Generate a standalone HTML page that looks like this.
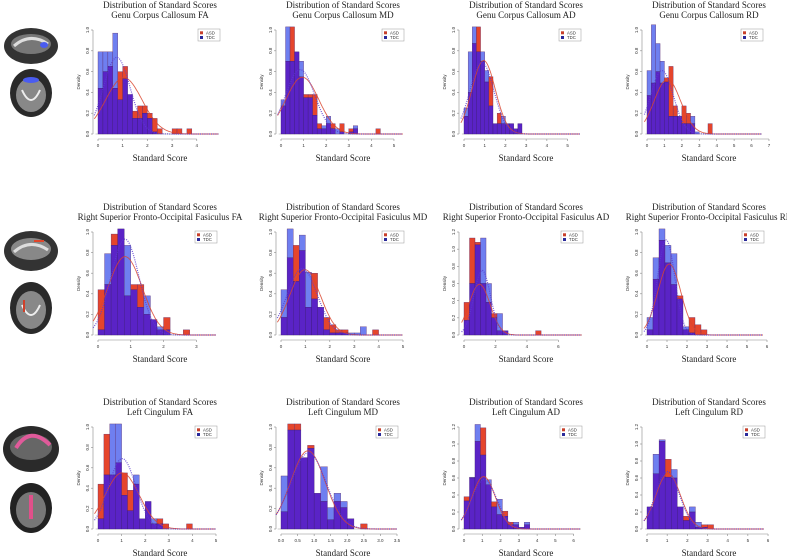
<!DOCTYPE html>
<html><head><meta charset="utf-8">
<style>
html,body{margin:0;padding:0;background:#fff;width:787px;height:560px;overflow:hidden}
svg{display:block}
.t{font-family:"Liberation Serif",serif;fill:#222}
.s{font-family:"Liberation Sans",sans-serif;fill:#333}
</style></head><body>
<svg id="fig" width="787" height="560" viewBox="0 0 787 560" xmlns="http://www.w3.org/2000/svg">
<g>
 <g>
  <ellipse cx="31" cy="46" rx="27" ry="18" fill="#333"/><ellipse cx="31" cy="44" rx="20" ry="10" fill="#777"/><path d="M14 46 Q30 32 48 44" stroke="#ddd" stroke-width="3" fill="none"/><ellipse cx="44" cy="45" rx="4" ry="3" fill="#4a5cf0"/>
  <ellipse cx="31" cy="93" rx="21" ry="24" fill="#2a2a2a"/><ellipse cx="31" cy="95" rx="15" ry="17" fill="#888"/><path d="M22 90 Q31 110 40 90" stroke="#eee" stroke-width="2" fill="none"/><ellipse cx="31" cy="80" rx="8" ry="3" fill="#4a5cf0"/>
 </g>
 <g>
  <ellipse cx="31" cy="251" rx="27" ry="20" fill="#333"/><ellipse cx="31" cy="249" rx="20" ry="11" fill="#888"/><path d="M14 252 Q30 238 48 250" stroke="#ddd" stroke-width="3" fill="none"/><rect x="34" y="240" width="10" height="2" fill="#e0452a"/>
  <ellipse cx="31" cy="308" rx="21" ry="26" fill="#2a2a2a"/><ellipse cx="31" cy="310" rx="15" ry="19" fill="#888"/><path d="M22 305 Q31 325 40 305" stroke="#eee" stroke-width="2" fill="none"/><rect x="23" y="300" width="2" height="12" fill="#d0402a"/>
 </g>
 <g>
  <ellipse cx="31" cy="449" rx="28" ry="23" fill="#2a2a2a"/><ellipse cx="31" cy="447" rx="21" ry="13" fill="#666"/><path d="M16 448 Q30 425 50 445" stroke="#e05a9a" stroke-width="4" fill="none"/>
  <ellipse cx="31" cy="508" rx="21" ry="25" fill="#222"/><ellipse cx="31" cy="510" rx="15" ry="18" fill="#777"/><rect x="29" y="495" width="4" height="24" fill="#e0508a"/>
 </g>
</g>
<g id="charts"></g>
</svg>
<script>
// ---- data: histogram densities (ASD and TDC) per panel ----
const asdGenuFA=[0.44,0.6,0.65,0.44,0.6,0.65,0.38,0.22,0.27,0.27,0.2,0.15,0.05,0,0,0.05,0.05,0,0.05];
const tdcGenuFA=[0.79,0.79,0.79,0.97,0.33,0.53,0.38,0.15,0.15,0.2,0.15,0.02];
const asdGenuMD=[0.27,0.7,1.03,0.79,0.55,0.38,0.38,0.38,0.1,0.05,0.1,0.1,0,0.1,0,0.05,0.05,0,0,0,0,0.05];
const tdcGenuMD=[0.33,1.03,0.7,0.79,0.7,0.35,0.35,0.18,0.05,0.08,0.17,0.05,0.05,0.02,0,0.02,0.08];
const asdGenuAD=[0.17,0.4,0.87,1.03,0.7,0.5,0.55,0.1,0.2,0.1,0.1,0.1,0.05,0.1];
const tdcGenuAD=[0.25,0.79,1.03,0.79,0.79,0.61,0.27,0.1,0.1,0.17,0.1,0.1,0.05,0.1];
const asdGenuRD=[0.37,0.49,0.6,0.49,0.54,0.65,0.27,0.17,0.27,0.2,0.1,0,0,0,0.1];
const tdcGenuRD=[0.61,1.05,0.87,0.7,0.5,0.17,0.17,0.17,0.1,0.1,0.17,0.02];
const asdSfofFA=[0.44,0.49,0.98,1.03,0.38,0.49,0.49,0.2,0.15,0.05,0.17,0,0,0.05];
const tdcSfofFA=[0.05,0.79,0.87,1.03,0.87,0.44,0.27,0.38,0.15,0.08,0.05];
const asdSfofMD=[0.17,0.75,0.87,0.82,0.27,0.6,0.27,0.17,0.1,0.05,0.05,0,0,0,0,0.05];
const tdcSfofMD=[0.44,1.03,0.52,0.97,0.61,0.35,0.27,0.05,0.02,0.02,0.02,0.02,0.02,0.08];
const asdSfofAD=[0.38,1.13,1.08,0.6,0.38,0.25,0.05,0.05,0,0,0,0,0,0.05];
const tdcSfofAD=[0.17,0.6,1.05,1.13,0.6,0.2,0.25,0.05];
const asdSfofRD=[0.05,0.54,0.92,0.7,0.49,0.38,0.05,0.17,0.1,0.05];
const tdcSfofRD=[0.17,0.75,1.03,0.87,0.79,0.35,0.08,0.02];
const asdCingFA=[0.44,0.93,0.53,0.65,0.55,0.38,0.44,0.1,0.27,0.05,0.1,0.05,0,0,0,0.05];
const tdcCingFA=[0.1,0.53,1.03,1.03,0.33,0.18,0.53,0.1,0.27,0.1,0.05];
const asdCingMD=[0.17,1.03,1.03,0.7,0.82,0.35,0.27,0.09,0.27,0.21,0.1,0,0.05];
const tdcCingMD=[0.52,0.97,0.97,0.7,0.79,0.35,0.61,0.21,0.35,0.27,0.1];
const asdCingAD=[0.38,0.6,1.03,1.19,0.52,0.32,0.17,0.21,0.08,0.05,0.02,0.05];
const tdcCingAD=[0.33,0.61,1.23,0.87,0.58,0.26,0.35,0.15,0.05,0.08,0.02,0.08];
const asdCingRD=[0.26,0.65,1.03,0.82,0.6,0.26,0.15,0.2,0.02,0.05,0.05];
const tdcCingRD=[0.26,0.88,1.05,0.61,0.7,0.26,0.1,0.26,0.08,0.02];
const tractNames=["Genu Corpus Callosum","Right Superior Fronto-Occipital Fasiculus","Left Cingulum"];
const measureNames=["FA","MD","AD","RD"];
const binWidths=[0.2,0.2,0.2,0.25, 0.2,0.25,0.35,0.3, 0.25,0.2,0.3,0.3];
const xTickLabels=[[0,1,2,3,4],[0,1,2,3,4,5],[0,1,2,3,4,5],[0,1,2,3,4,5,6,7],
 [0,1,2,3],[0,1,2,3,4,5],[0,2,4,6],[0,1,2,3,4,5,6],
 [0,1,2,3,4,5],[0,0.5,1,1.5,2,2.5,3,3.5],[0,1,2,3,4,5,6],[0,1,2,3,4,5,6]];
const yTopValues=[1.0,1.0,1.0,1.0, 1.0,1.0,1.2,1.0, 1.0,1.0,1.2,1.2];
const xDomainMax=[4.9,5.4,5.6,6.6, 3.6,5.0,7.5,5.8, 5.0,3.5,6.4,5.8];
const asdSeries=[asdGenuFA,asdGenuMD,asdGenuAD,asdGenuRD,asdSfofFA,asdSfofMD,asdSfofAD,asdSfofRD,asdCingFA,asdCingMD,asdCingAD,asdCingRD];
const tdcSeries=[tdcGenuFA,tdcGenuMD,tdcGenuAD,tdcGenuRD,tdcSfofFA,tdcSfofMD,tdcSfofAD,tdcSfofRD,tdcCingFA,tdcCingMD,tdcCingAD,tdcCingRD];

// ---- layout ----
const colX0=[98,281,464,647];
const rowTop=[30,232,427], rowBot=[134,335,529];
const plotW=[121,122,116,115, 118,122,118,116, 118,116,117,117];
const NS="http://www.w3.org/2000/svg";
const root=document.getElementById('charts');
function mk(tag,attrs,parent){const e=document.createElementNS(NS,tag);for(const k in attrs)e.setAttribute(k,attrs[k]);parent.appendChild(e);return e;}
function stats(h,bw){let s=0,m=0,v=0;h.forEach((d,i)=>{s+=d;m+=d*(i+0.5)*bw;});m/=s;h.forEach((d,i)=>{v+=d*Math.pow((i+0.5)*bw-m,2);});v/=s;return [m,Math.sqrt(v)];}

for(let p=0;p<12;p++){
 const r=Math.floor(p/4),c=p%4;
 const x0=colX0[c],top=rowTop[r],bot=rowBot[r];
 const sx=plotW[p]/xDomainMax[p];
 const xs=v=>x0+v*sx;
 const ys=v=>bot-(v/yTopValues[p])*(bot-top);
 const g=mk('g',{},root);
 
 
 const cx=x0+62;
 const t1=mk('text',{x:cx,y:top-22,'text-anchor':'middle','font-size':'9',class:'t'},g);t1.textContent='Distribution of Standard Scores';
 
 
 const t2=mk('text',{x:cx,y:top-12,'text-anchor':'middle','font-size':'9',class:'t'},g);t2.textContent=tractNames[r]+' '+measureNames[c];
 
 
 const xl=mk('text',{x:cx,y:bot+27,'text-anchor':'middle','font-size':'9',class:'t'},g);xl.textContent='Standard Score';
 
 
 const yl=mk('text',{x:0,y:0,'text-anchor':'middle','font-size':'4.5',class:'s',transform:`translate(${x0-18},${(top+bot)/2}) rotate(-90)`},g);yl.textContent='Density';
 
 
 const ya=mk('g',{},g);
 
 
 mk('line',{x1:x0-5,x2:x0-5,y1:ys(0),y2:ys(yTopValues[p]),stroke:'#888','stroke-width':0.6},ya);
 for(let v=0;v<=yTopValues[p]+1e-6;v+=0.2){
  mk('line',{x1:x0-7,x2:x0-5,y1:ys(v),y2:ys(v),stroke:'#888','stroke-width':0.6},ya);
  const tl=mk('text',{x:0,y:0,'text-anchor':'middle','font-size':'4.5',class:'s',transform:`translate(${x0-9},${ys(v)}) rotate(-90)`},ya);tl.textContent=v.toFixed(1);
 }
 const xa=mk('g',{},g);
 
 
 const tk=xTickLabels[p];
 mk('line',{x1:xs(tk[0]),x2:xs(tk[tk.length-1]),y1:bot+5,y2:bot+5,stroke:'#888','stroke-width':0.6},xa);
 tk.forEach(v=>{mk('line',{x1:xs(v),x2:xs(v),y1:bot+5,y2:bot+7,stroke:'#888','stroke-width':0.6},xa);
  const tl=mk('text',{x:xs(v),y:bot+13,'text-anchor':'middle','font-size':'4.5',class:'s'},xa);tl.textContent=(p===9?v.toFixed(1):String(v));});
 mk('line',{x1:xs(-0.1),x2:xs(xDomainMax[p]),y1:bot,y2:bot,stroke:'#999','stroke-width':0.6},g);
 const a=asdSeries[p],b=tdcSeries[p],bw=binWidths[p];
 const n=Math.max(a.length,b.length);
 for(let i=0;i<n;i++){
  const va=a[i]||0,vb=b[i]||0;const lo=Math.min(va,vb),hi=Math.max(va,vb);
  const bx=xs(i*bw),w=bw*sx;
  if(hi>lo){const e=mk('rect',{x:bx,y:ys(hi),width:w,height:ys(lo)-ys(hi),fill:va>vb?'#e5452c':'#6f7ff0',stroke:'#5a2a6a','stroke-width':0.35},g);
   
   }
  if(lo>0){const e=mk('rect',{x:bx,y:ys(lo),width:w,height:ys(0)-ys(lo),fill:'#5a23c6',stroke:'#3a1a70','stroke-width':0.35},g);
   
   }
 }
 [[a,'#d9452e',''],[b,'#5b3bd0','1,1.2']].forEach(([h,col,dash],k)=>{
  const [m,s]=stats(h,bw);let d='';
  for(let x=-0.15;x<=xDomainMax[p];x+=xDomainMax[p]/120){const y=Math.exp(-0.5*Math.pow((x-m)/s,2))/(s*Math.sqrt(2*Math.PI));d+=(d?'L':'M')+xs(x).toFixed(1)+' '+ys(y).toFixed(1);}
  const e=mk('path',{d:d,fill:'none',stroke:col,'stroke-width':k?1.2:0.9,'stroke-dasharray':dash,opacity:0.85},g);
  
  
 });
 const lg=mk('g',{},g);
 
 
 const lx=x0+plotW[p]-21,ly=top-1;
 mk('rect',{x:lx,y:ly,width:22,height:12,fill:'#fff',stroke:'#999','stroke-width':0.5},lg);
 mk('rect',{x:lx+2,y:ly+2.3,width:3,height:3,fill:'#c8402a'},lg);
 mk('rect',{x:lx+2,y:ly+7,width:3,height:3,fill:'#2a2a9a'},lg);
 const e1=mk('text',{x:lx+8,y:ly+5.3,'font-size':'4.3',class:'s'},lg);e1.textContent='ASD';
 
 
 const e2=mk('text',{x:lx+8,y:ly+10,'font-size':'4.3',class:'s'},lg);e2.textContent='TDC';
 
 
}
</script>
</body></html>
